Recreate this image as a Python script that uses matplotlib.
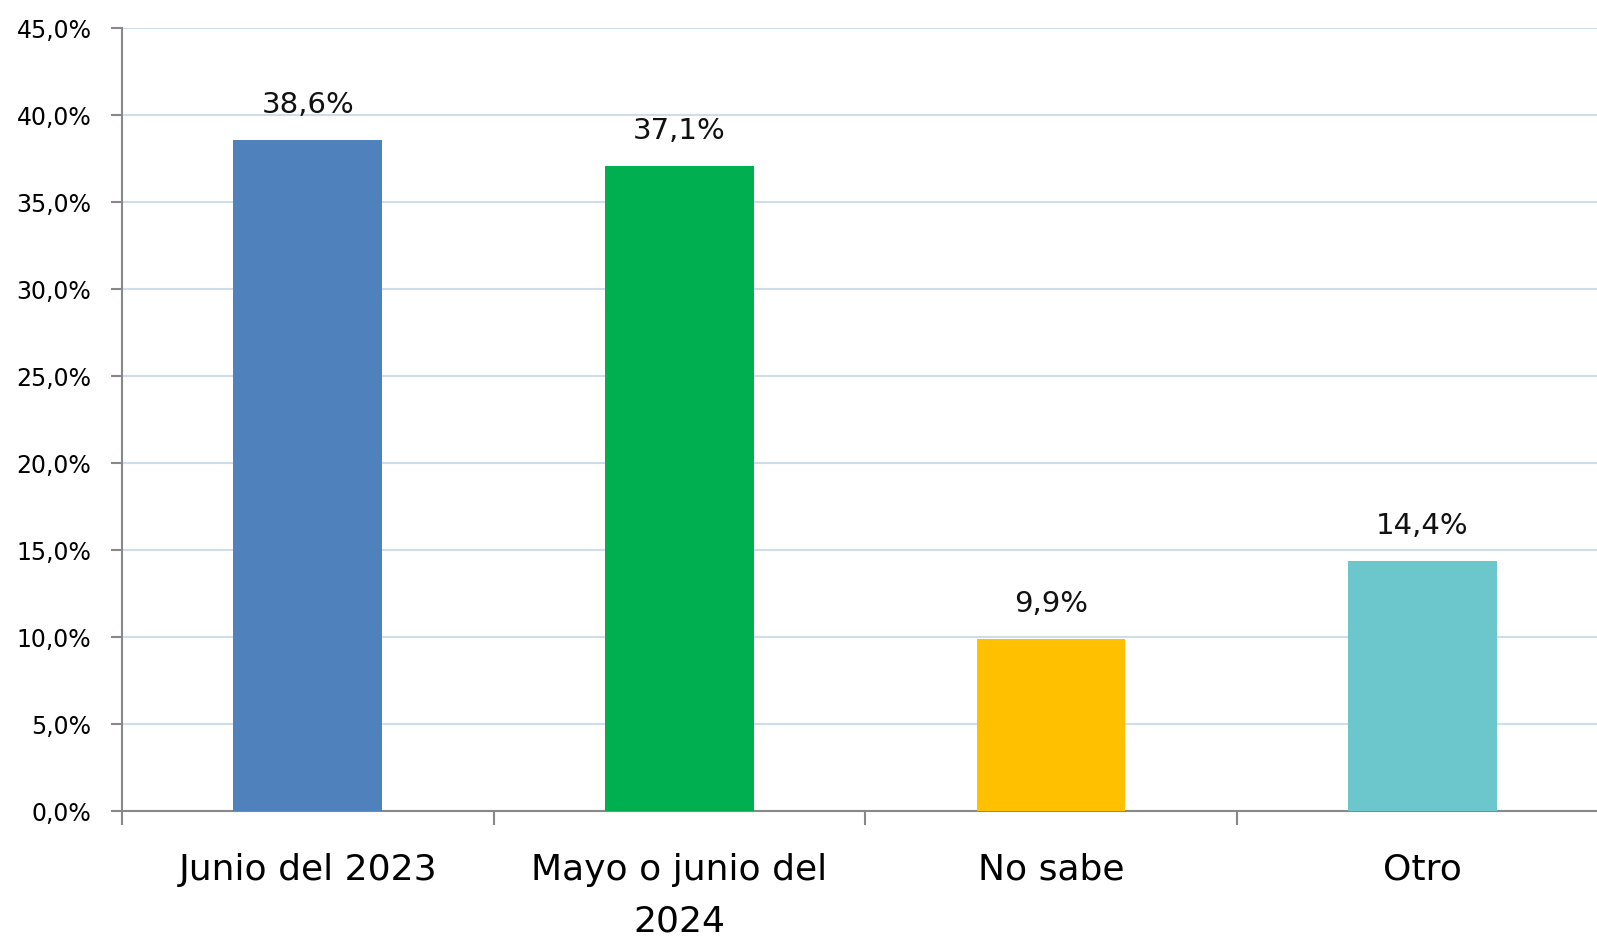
import matplotlib
matplotlib.use("Agg")
import matplotlib.pyplot as plt
from matplotlib.ticker import FuncFormatter

categorias = ["Junio del 2023", "Mayo o junio del\n2024", "No sabe", "Otro"]
valores = [38.6, 37.1, 9.9, 14.4]
colores = ["#4F81BD", "#00B050", "#FFC000", "#6CC7CC"]
yticks = [0, 5, 10, 15, 20, 25, 30, 35, 40, 45]

plt.rcParams["font.family"] = ["DejaVu Sans"]

fig = plt.figure(figsize=(15.97, 9.42), dpi=100)
ax = fig.add_axes([0.0764, 0.139, 0.9236, 0.831])

x = list(range(len(categorias)))
ax.bar(x, valores, width=0.4, color=colores, zorder=3)

for xi, v in zip(x, valores):
    ax.annotate(f"{v:.1f}%".replace(".", ","), (xi, v), xytext=(0, 15),
                textcoords="offset points", ha="center", va="bottom",
                fontsize=21, color="#111111")

ax.set_xlim(-0.5, 3.47)
ax.set_ylim(0, 45)
ax.set_yticks(yticks)
ax.yaxis.set_major_formatter(FuncFormatter(lambda v, p: f"{v:.1f}%".replace(".", ",")))
ax.grid(axis="y", color="#cfdcec", linewidth=1.5, zorder=0)
ax.set_axisbelow(True)

# separadores de categorias en el eje x
ax.set_xticks([i - 0.5 for i in x])
ax.set_xticklabels([])
ax.set_xticks(x, minor=True)
ax.set_xticklabels(categorias, minor=True, fontsize=26, linespacing=1.65, va="top")
ax.tick_params(axis="x", which="major", length=10, width=1.5, color="#888888")
ax.tick_params(axis="x", which="minor", length=0, pad=30)
ax.tick_params(axis="y", length=8, width=1.5, color="#888888", labelsize=17, pad=14)

for s in ["top", "right"]:
    ax.spines[s].set_visible(False)
for s in ["left", "bottom"]:
    ax.spines[s].set_color("#888888")
    ax.spines[s].set_linewidth(1.5)

fig.savefig("out.png", dpi=100)
